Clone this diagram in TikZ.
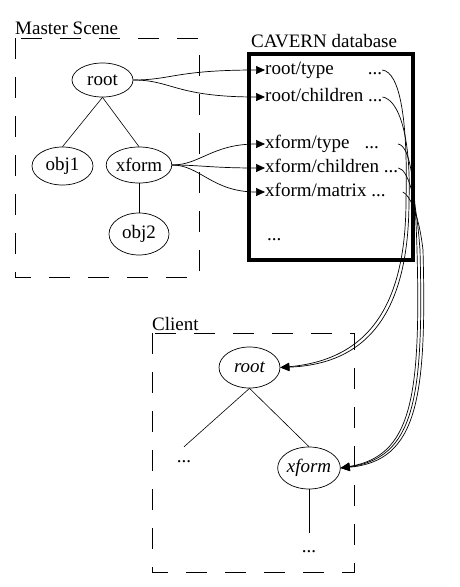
\documentclass[tikz,border=0pt]{standalone}
\usepackage{fontspec}
\setmainfont{Liberation Serif}
\usetikzlibrary{arrows.meta,shapes.geometric}
\begin{document}
\begin{tikzpicture}[x=1pt,y=-1pt,
  txt/.style={font=\fontsize{19}{22}\selectfont, inner sep=0pt},
  ell/.style={draw, ellipse, inner sep=0pt, line width=0.7pt, font=\fontsize{19}{22}\selectfont},
  entry/.style={anchor=west, inner sep=0pt, text height=13.3pt, text depth=3.8pt, font=\fontsize{19}{22}\selectfont},
  grp/.style={draw, dash pattern=on 21pt off 18pt, line width=0.8pt},
  dbbox/.style={draw, line width=4pt},
  feed/.style={-{Triangle[length=9pt,width=8pt]}, line width=0.7pt},
  link/.style={line width=0.6pt}]
\useasboundingbox[fill=white] (0,0) rectangle (460,587);

% Master scene
\node[txt, anchor=base west] (mlabel) at (15,34) {Master Scene};
\draw[grp] (15,38) rectangle (199,277);
\node[ell, minimum width=61pt, minimum height=34pt] (mroot) at (102.5,80) {root};
\node[ell, minimum width=61pt, minimum height=38pt] (mobj1) at (62.5,166) {obj1};
\node[ell, minimum width=60pt, minimum height=36pt] (mxf) at (139,165) {xform};
\node[ell, minimum width=60pt, minimum height=42pt] (mobj2) at (139,234) {obj2};
\draw[link] (mroot.south) -- (mobj1.north);
\draw[link] (mroot.south) -- (mxf.north);
\draw[link] (mxf.south) -- (mobj2.north);

% CAVERN database
\node[txt, anchor=base west] (dblabel) at (251,47) {CAVERN database};
\draw[dbbox] (249,54) rectangle (413,260);
\node[entry] (rt) at (265,70) {root/type\hspace{34pt}...};
\node[entry] (rc) at (265,97) {root/children ...};
\node[entry] (xt) at (265,144) {xform/type\hspace{15pt}...};
\node[entry] (xc) at (265,168) {xform/children ...};
\node[entry] (xm) at (265,192) {xform/matrix ...};
\node[txt, anchor=base west] (dbdots) at (267,240) {...};

\draw[feed] (mroot.east) .. controls (172,80) and (175,70) .. (rt.west);
\draw[feed] (mroot.east) .. controls (172,80) and (175,97) .. (rc.west);
\draw[feed] (mxf.east) .. controls (200,165) and (212,144) .. (xt.west);
\draw[feed] (mxf.east) .. controls (200,165) and (212,168) .. (xc.west);
\draw[feed] (mxf.east) .. controls (200,165) and (212,192) .. (xm.west);

% Client
\node[txt, anchor=base west] (clabel) at (152,330) {Client};
\draw[grp] (152,333) rectangle (354,572);
\node[ell, minimum width=61pt, minimum height=41pt, font=\fontsize{19}{22}\selectfont\itshape] (croot) at (249.5,367.5) {root};
\node[ell, minimum width=60pt, minimum height=42pt, font=\fontsize{19}{22}\selectfont\itshape] (cxf) at (309,468) {xform};
\node[txt, anchor=base, text height=15pt] (cdl) at (184,462) {...};
\node[txt, anchor=base, text height=19pt] (cdr) at (309,552) {...};
\draw[link] (croot.south) -- (cdl.north);
\draw[link] (croot.south) -- (cxf.north);
\draw[link] (cxf.south) -- (cdr.north);

% replication curves
\draw[feed] (rt.east) .. controls (400,72) and (408,120) .. (406,200) .. controls (406,310) and (365,360) .. (croot.east);
\draw[feed] (rc.east) .. controls (400,100) and (411,140) .. (409,200) .. controls (409,312) and (368,364) .. (croot.east);
\draw[feed] ([xshift=19pt]xt.east) .. controls (410,146) and (415,180) .. (417,250) .. controls (421,400) and (411,456) .. (cxf.east);
\draw[feed] (xc.east) .. controls (408,170) and (416,195) .. (420,250) .. controls (424,400) and (414,458) .. (cxf.east);
\draw[feed] ([xshift=17pt]xm.east) .. controls (410,195) and (419,215) .. (423,250) .. controls (427,400) and (417,461) .. (cxf.east);
\end{tikzpicture}
\end{document}
